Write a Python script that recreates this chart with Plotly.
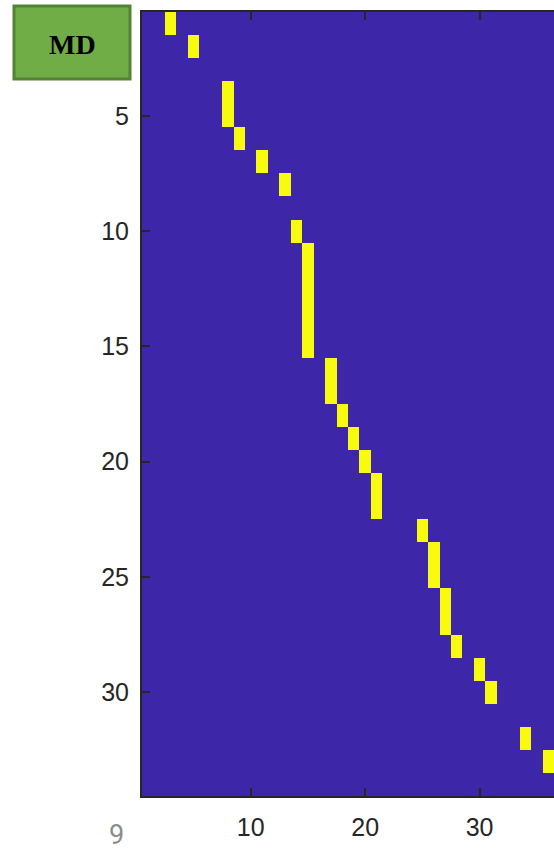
import numpy as np
import plotly.graph_objects as go

# Active cell in each row of the binary matrix (row index -> column index)
rows = [1, 2, 4, 5, 6, 7, 8, 10, 11, 12, 13, 14, 15, 16, 17, 18, 19, 20,
        21, 22, 23, 24, 25, 26, 27, 28, 29, 30, 32, 33]
cols = [3, 5, 8, 8, 9, 11, 13, 14, 15, 15, 15, 15, 15, 17, 17, 18, 19, 20,
        21, 21, 25, 26, 26, 27, 27, 28, 30, 31, 34, 36]
n_rows = 34
n_cols = 36
y_ticks = [5, 10, 15, 20, 25, 30]
x_ticks = [10, 20, 30]

z = np.zeros((n_rows, n_cols))
for r, c in zip(rows, cols):
    z[r - 1, c - 1] = 1

W, H = 554, 850
L, R, T, B = 142, 0, 12, 54
pw, ph = W - L - R, H - T - B


def px_x(x):
    return (x - L) / pw


def px_y(y):
    return (H - B - y) / ph


fig = go.Figure(
    go.Heatmap(
        z=z,
        x=list(range(1, n_cols + 1)),
        y=list(range(1, n_rows + 1)),
        colorscale=[[0, "#3E26A8"], [1, "#F9FB0E"]],
        zmin=0, zmax=1,
        showscale=False,
        hoverinfo="skip",
    )
)

axis_color = "#262626"
tick_font = dict(family="Liberation Sans, Arial, sans-serif", size=25, color=axis_color)

fig.update_layout(
    width=W, height=H,
    margin=dict(l=L, r=R, t=T, b=B),
    paper_bgcolor="white",
    plot_bgcolor="white",
    xaxis=dict(
        range=[0.5, n_cols + 0.5],
        tickvals=x_ticks,
        ticks="inside", ticklen=8, tickwidth=2, tickcolor=axis_color,
        showline=True, linewidth=2, linecolor=axis_color, mirror="ticks",
        showgrid=False, zeroline=False,
        tickfont=tick_font,
        ticklabelstandoff=8,
    ),
    yaxis=dict(
        range=[n_rows + 0.5, 0.5],
        tickvals=y_ticks,
        ticks="inside", ticklen=8, tickwidth=2, tickcolor=axis_color,
        showline=True, linewidth=2, linecolor=axis_color, mirror=False,
        showgrid=False, zeroline=False,
        tickfont=tick_font,
        ticklabelstandoff=6,
    ),
    shapes=[
        dict(
            type="rect", xref="paper", yref="paper",
            x0=px_x(14), x1=px_x(130), y0=px_y(79), y1=px_y(6),
            fillcolor="#70AD47", line=dict(color="#548235", width=3),
            layer="above",
        )
    ],
    annotations=[
        dict(
            text="<b>MD</b>", xref="paper", yref="paper",
            x=px_x(72), y=px_y(44), showarrow=False,
            xanchor="center", yanchor="middle",
            font=dict(family="Liberation Serif, Times New Roman, serif", size=28, color="black"),
        ),
        dict(
            text="9", xref="paper", yref="paper",
            x=px_x(116), y=px_y(835), showarrow=False,
            xanchor="center", yanchor="middle",
            font=dict(family="Roboto, Liberation Sans, sans-serif", size=27, color="#8c8c8c"),
        ),
    ],
)

fig.write_html("out.html")
